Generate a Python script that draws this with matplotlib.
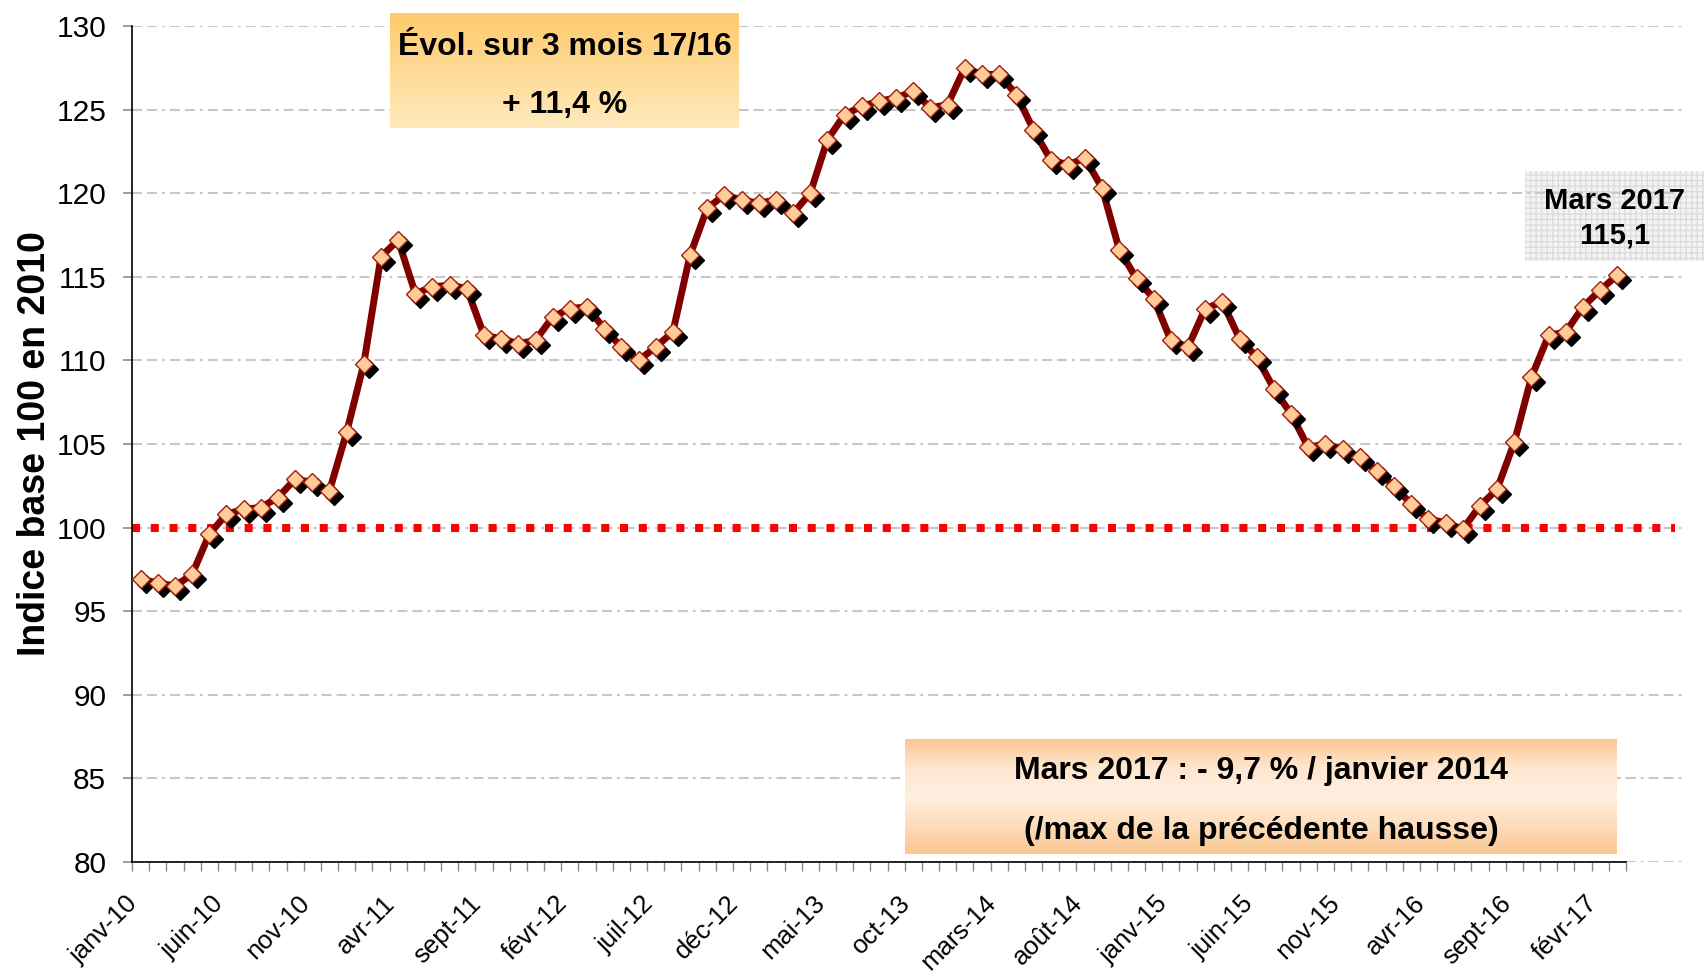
import numpy as np
import matplotlib
matplotlib.use('Agg')
import matplotlib.pyplot as plt
from matplotlib.patches import Rectangle
from matplotlib.transforms import offset_copy, ScaledTranslation

# monthly index, janv-10 .. mars-17 (base 100 en 2010)
values = [96.9, 96.7, 96.5, 97.2, 99.6, 100.8, 101.1, 101.2, 101.8, 102.9, 102.7, 102.2,
          105.7, 109.8, 116.2, 117.2, 114.0, 114.4, 114.5, 114.3, 111.5, 111.3, 111.0, 111.2,
          112.6, 113.1, 113.2, 111.9, 110.8, 110.0, 110.8, 111.7, 116.3, 119.1, 119.9, 119.6,
          119.4, 119.6, 118.8, 120.0, 123.2, 124.7, 125.2, 125.5, 125.7, 126.1, 125.1, 125.3,
          127.5, 127.1, 127.1, 125.9, 123.8, 122.0, 121.7, 122.1, 120.3, 116.6, 114.9, 113.7,
          111.2, 110.8, 113.1, 113.5, 111.3, 110.2, 108.3, 106.8, 104.8, 105.0, 104.7, 104.2,
          103.4, 102.5, 101.4, 100.5, 100.3, 99.9, 101.3, 102.3, 105.1, 109.0, 111.5, 111.7,
          113.2, 114.2, 115.1]
months = ['janv', 'févr', 'mars', 'avr', 'mai', 'juin', 'juil', 'août', 'sept', 'oct', 'nov', 'déc']
start_year = 2010
label_step = 5
ref_level = 100
y_ticks = list(range(80, 131, 5))

box_top = ['Évol. sur 3 mois 17/16', '+ 11,4 %']
box_bottom = ['Mars 2017 : - 9,7 % / janvier 2014', '(/max de la précédente hausse)']
box_last = ['Mars 2017', '115,1']

plt.rcParams['font.family'] = ['Liberation Sans', 'DejaVu Sans']

W, H = 1704, 974
fig = plt.figure(figsize=(W / 100, H / 100), dpi=100)


def fig_rect(x0, y0, x1, y1):
    # pixel box (top-left origin) -> figure fraction [left, bottom, width, height]
    return [x0 / W, 1 - y1 / H, (x1 - x0) / W, (y1 - y0) / H]


ax = fig.add_axes(fig_rect(132, 26, 1686, 862))
n = len(values)
x = np.arange(n)

# series: line, shadow of markers, markers
ax.plot(x, values, color='#800000', linewidth=5, zorder=3, solid_joinstyle='round')
shadow = offset_copy(ax.transData, fig=fig, x=5, y=-5, units='dots')
ax.plot(x, values, linestyle='none', marker='D', markersize=9, color='black',
        transform=shadow, zorder=4)
ax.plot(x, values, linestyle='none', marker='D', markersize=9,
        markerfacecolor='#FFCC99', markeredgecolor='#A0200A', markeredgewidth=1, zorder=5)

# ticks
labels = [f"{months[i % 12]}-{str(start_year + i // 12)[2:]}" for i in range(0, n, label_step)]
ax.set_xticks(np.arange(0, n, label_step))
ax.set_xticklabels(labels, fontsize=18.5, rotation=45, ha='right', rotation_mode='anchor')
ax.set_xticks(np.arange(-0.5, n, 1), minor=True)
ax.tick_params(axis='x', which='major', length=0, pad=21)
ax.tick_params(axis='x', which='minor', length=6.5, color='#8C8C8C', width=1)
ax.tick_params(axis='y', length=6.5, color='#8C8C8C', width=1.2, labelsize=21.5, pad=12)
shift = ScaledTranslation(-0.15, 0, fig.dpi_scale_trans)
for lab in ax.get_xticklabels():
    lab.set_transform(lab.get_transform() + shift)

ax.set_yticks(y_ticks)
ax.set_ylim(80, 130)
ax.set_xlim(-0.5, n + 3)

# grid and reference line
ax.yaxis.grid(True, color='#C8C8C8', linewidth=1.5,
              linestyle=(0, (4.8, 2.4, 4.8, 2.4, 1.4, 2.4)))
ax.axhline(ref_level, xmin=0, xmax=0.993, color='#FF0000', linewidth=5.8,
           linestyle=(0, (1, 1.33)), dash_capstyle='butt', zorder=2)

# axes styling
for s in ['top', 'right']:
    ax.spines[s].set_visible(False)
ax.spines['bottom'].set_bounds(-0.5, n - 0.5)
ax.spines['left'].set_linewidth(1.2)
ax.spines['bottom'].set_linewidth(1.2)

ax.set_ylabel('Indice base 100 en 2010', fontsize=27, fontweight='bold')
ax.yaxis.set_label_coords(-0.051, 0.5)

# "Mars 2017" label box, behind the gridlines
r = fig_rect(1525, 171, 1704, 261)
ax.add_patch(Rectangle((r[0], r[1]), r[2], r[3], transform=fig.transFigure, clip_on=False,
                       facecolor='#F4F4F4', edgecolor='#DCDCDC', hatch='+++', linewidth=0,
                       zorder=1))
fig.text(1615 / W, 1 - 201 / H, box_last[0], ha='center', va='center', fontsize=21,
         fontweight='bold')
fig.text(1615 / W, 1 - 236 / H, box_last[1], ha='center', va='center', fontsize=21,
         fontweight='bold')


def gradient_box(rect, stops, lines, ys, size, family):
    bax = fig.add_axes(rect)
    cols = np.array([matplotlib.colors.to_rgb(c) for c in stops])
    t = np.linspace(0, 1, 200)
    pos = np.linspace(0, 1, len(stops))
    grad = np.stack([np.interp(t, pos, cols[:, k]) for k in range(3)], axis=1)
    bax.imshow(grad[:, None, :], aspect='auto', extent=[0, 1, 0, 1])
    bax.set_axis_off()
    for txt, yy in zip(lines, ys):
        bax.text(0.5, yy, txt, ha='center', va='center', fontsize=size,
                 fontweight='bold', family=family, transform=bax.transAxes)


gradient_box(fig_rect(390, 13, 739, 128), ['#FDCA6C', '#FEDA95', '#FFE9BC'],
             box_top, [0.71, 0.2], 23, ['Liberation Sans', 'DejaVu Sans'])
gradient_box(fig_rect(905, 739, 1617, 854), ['#FCC690', '#FEE6CE', '#FFEFE0', '#FDDDBC', '#FCC690'],
             box_bottom, [0.72, 0.2], 23, ['Liberation Sans', 'DejaVu Sans'])

fig.savefig('out.png', dpi=100)
